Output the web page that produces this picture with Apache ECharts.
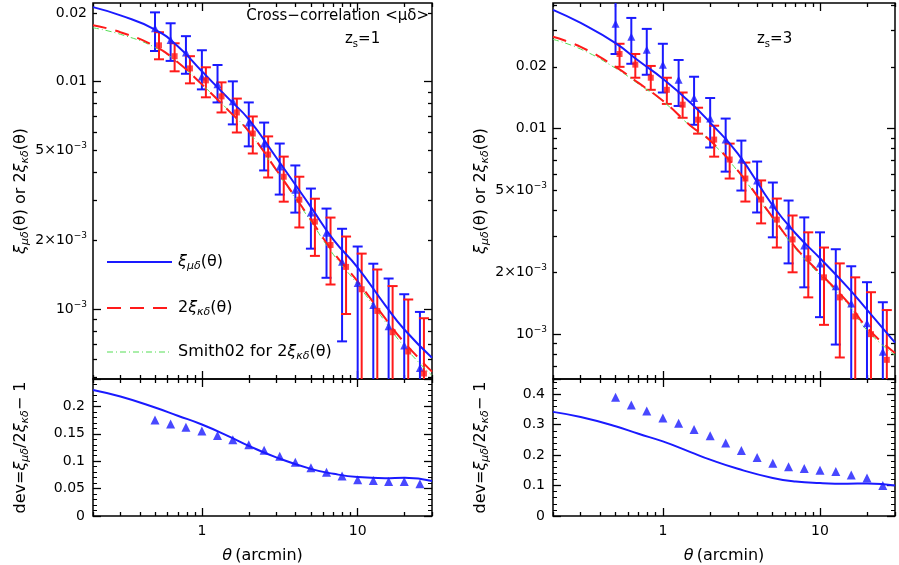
<!DOCTYPE html>
<html><head><meta charset="utf-8">
<script src="https://cdn.jsdelivr.net/npm/echarts@6/dist/echarts.min.js"></script>
<style>html,body{margin:0;background:#fff}#c{width:899px;height:565px}</style>
</head><body><div id="c"></div>
<script>
// ---------- DATA ----------
const theta = [0.5,0.63,0.79,1,1.26,1.58,2,2.51,3.16,3.98,5.01,6.31,7.94,10,12.6,15.8,19.9,25.1];
const curveTheta = [0.2,0.3,0.5,0.7,1,1.5,2,3,5,7,10,15,20,30];
const OFF = 1e-5; // error bar extends below the plot
// z_s = 1 (left)
const L_muPts = [0.0171,0.0152,0.0134,0.0105,0.0097,0.00817,0.00659,0.00533,0.00423,0.00334,0.00265,0.00216,0.00161,0.00130,0.00104,0.00084,0.00069,0.00055];
const L_muHi  = [0.0201,0.0180,0.0158,0.0137,0.0118,0.0100,0.00808,0.00659,0.00533,0.00427,0.00338,0.00276,0.00225,0.00188,0.00158,0.00136,0.00116,0.00097];
const L_muLo  = [0.0136,0.0123,0.0108,0.00922,0.00808,0.00647,0.00518,0.00406,0.00318,0.00265,0.00184,0.00137,0.00072,OFF,OFF,OFF,OFF,OFF];
const L_kPts  = [0.0144,0.0129,0.0114,0.0101,0.00859,0.00730,0.00590,0.00477,0.00381,0.00302,0.00242,0.00191,0.00153,0.00122,0.00098,0.00079,0.00065,0.00052];
const L_kHi   = [0.01644,0.0147,0.0129,0.01153,0.0099,0.0084,0.00701,0.00573,0.00467,0.00381,0.00305,0.00252,0.00208,0.00175,0.00149,0.00126,0.00110,0.00091];
const L_kLo   = [0.0125,0.01107,0.0098,0.00851,0.0073,0.00596,0.00482,0.00378,0.00296,0.00228,0.00171,0.00128,0.00095,OFF,OFF,OFF,OFF,OFF];
const L_muCurve = [0.0212,0.0195,0.0169,0.01426,0.01107,0.00833,0.00681,0.00463,0.00281,0.00201,0.00152,0.00104,0.00081,0.00061];
const L_kCurve  = [0.01766,0.01644,0.01426,0.01213,0.0097,0.00738,0.00603,0.00409,0.00247,0.00177,0.00132,0.00091,0.00071,0.00053];
const L_smith   = [0.0172,0.0161,0.0141,0.0121,0.0097,0.0074,0.0060,0.00405,0.00243,0.00173,0.00128,0.00088,0.00068,0.00051];
const L_devPts  = [0.175,0.168,0.162,0.155,0.147,0.139,0.130,0.120,0.109,0.098,0.088,0.080,0.073,0.066,0.065,0.063,0.063,0.059];
const L_devCurve= [0.230,0.218,0.198,0.183,0.167,0.145,0.128,0.107,0.086,0.077,0.071,0.069,0.070,0.064];
// z_s = 3 (right)
const R_muPts = [0.0324,0.0280,0.0242,0.0205,0.0173,0.0141,0.0112,0.00885,0.00708,0.00560,0.00428,0.00338,0.00270,0.00221,0.00171,0.00141,0.00113,0.00082];
const R_muHi  = [0.045,0.0346,0.0306,0.0259,0.0216,0.0179,0.0141,0.0112,0.00875,0.00692,0.00547,0.00447,0.00370,0.00313,0.00259,0.00214,0.00179,0.00143];
const R_muLo  = [0.0231,0.0207,0.0183,0.0150,0.0129,0.01045,0.0081,0.00618,0.0050,0.00391,0.00296,0.00221,0.00169,0.00121,0.00089,OFF,OFF,OFF];
const R_kPts  = [0.0231,0.0205,0.0177,0.01546,0.01309,0.01106,0.00885,0.00708,0.00572,0.00452,0.00361,0.00289,0.00234,0.00189,0.00151,0.00122,0.0010,0.00075];
const R_kHi   = [0.0259,0.0231,0.0202,0.0177,0.0150,0.01265,0.01034,0.00846,0.00684,0.0056,0.00457,0.00378,0.00313,0.00264,0.00221,0.00189,0.0016,0.00131];
const R_kLo   = [0.0200,0.0177,0.01546,0.0132,0.0113,0.00946,0.00731,0.00572,0.00442,0.00346,0.00264,0.0020,0.00151,0.00111,0.00077,OFF,OFF,OFF];
const R_muCurve = [0.0379,0.0327,0.0261,0.0214,0.0175,0.01337,0.0107,0.00756,0.00423,0.00309,0.00234,0.00169,0.00131,0.00091];
const R_kCurve  = [0.0280,0.0250,0.0200,0.0167,0.01368,0.01034,0.00875,0.00625,0.0037,0.00264,0.00198,0.00143,0.00107,0.00081];
const R_smith   = [0.0272,0.0244,0.0197,0.0165,0.0136,0.0103,0.0087,0.0062,0.00366,0.00260,0.00194,0.00140,0.00104,0.00079];
const R_devPts  = [0.39,0.365,0.345,0.322,0.305,0.284,0.264,0.240,0.215,0.192,0.173,0.162,0.156,0.150,0.146,0.135,0.125,0.10];
const R_devCurve= [0.342,0.325,0.295,0.27,0.245,0.21,0.185,0.155,0.125,0.113,0.108,0.106,0.107,0.100];

const xTickLabels = [1,10];
const xMinorTicks = [0.2,0.3,0.4,0.5,0.6,0.7,0.8,0.9,2,3,4,5,6,7,8,9,20,30];
const yLabelsTop = [0.02,0.01,0.005,0.002,0.001];
const yMajorTop = [0.01,0.001];
const yMinorTop = [0.0005,0.0006,0.0007,0.0008,0.0009,0.002,0.003,0.004,0.005,0.006,0.007,0.008,0.009,0.02,0.03,0.04];

// ---------- BUILD ----------
const lg = Math.log10;
const BLUE = '#1a1aff', RED = '#ff1a1a', GREEN = '#55dd55';
const FONT = 'DejaVu Sans';
const rich = {n:{fontSize:14,fontFamily:FONT,color:'#000'},s:{fontSize:9,fontFamily:FONT,padding:[0,0,9,0],color:'#000'},
  b:{fontSize:16,fontFamily:FONT,fontStyle:'italic',color:'#000'},u:{fontSize:11,fontFamily:FONT,fontStyle:'italic',padding:[9,0,0,0],color:'#000'},
  r:{fontSize:16,fontFamily:FONT,color:'#000'}};
function yFmt(v){
  const x = Math.pow(10,v);
  const e = Math.floor(v+1e-9);
  const m = Math.round(x/Math.pow(10,e));
  if (e === -2) return '{n|0.0'+m+'}';
  return m===1 ? '{n|10}{s|−3}' : '{n|'+m+'×10}{s|−3}';
}
const grids = [
  {left:93,top:3,width:339,height:376},
  {left:93,top:379,width:339,height:141},
  {left:553,top:3,width:342,height:376},
  {left:553,top:379,width:342,height:141}
];
const xAxis=[], yAxis=[], series=[];
const xr=[lg(0.2),lg(30)];
function addX(gi,pos,ticks,len,labels){
  xAxis.push({type:'value',gridIndex:gi,position:pos,min:xr[0],max:xr[1],
    axisLine:{show:false,onZero:false},splitLine:{show:false},
    axisTick:{show:true,inside:true,length:len,lineStyle:{color:'#000',width:1.3},customValues:ticks.map(lg)},
    axisLabel:labels?{show:true,customValues:xTickLabels.map(lg),formatter:v=>String(Math.round(Math.pow(10,v))),fontSize:14,fontFamily:FONT,color:'#000',margin:8}:{show:false},
    name:labels?'{b|θ} {r|(arcmin)}':'',nameLocation:'middle',nameGap:32,nameTextStyle:{rich}});
  return xAxis.length-1;
}
function addYlog(gi,pos,ticks,len,min,max,labels,name){
  yAxis.push({type:'value',gridIndex:gi,position:pos,min:lg(min),max:lg(max),
    axisLine:{show:false,onZero:false},splitLine:{show:false},
    axisTick:{show:true,inside:true,length:len,lineStyle:{color:'#000',width:1.3},customValues:ticks.map(lg)},
    axisLabel:labels?{show:true,customValues:labels.map(lg),formatter:yFmt,rich,margin:6}:{show:false},
    name:name||'',nameLocation:'middle',nameRotate:90,nameGap:62,nameTextStyle:{rich}});
  return yAxis.length-1;
}
function addYlin(gi,pos,max,interval,labels,name){
  yAxis.push({type:'value',gridIndex:gi,position:pos,min:0,max:max,interval:interval,
    axisLine:{show:false,onZero:false},splitLine:{show:false},
    axisTick:{show:true,inside:true,length:8,lineStyle:{color:'#000',width:1.3}},
    minorTick:{show:true,splitNumber:5,length:4,lineStyle:{color:'#000'}},
    axisLabel:labels?{show:true,fontSize:14,fontFamily:FONT,color:'#000',formatter:v=>v>max-1e-9?'':String(+v.toFixed(2)),showMaxLabel:false}:{show:false},
    name:name||'',nameLocation:'middle',nameRotate:90,nameGap:62,nameTextStyle:{rich}});
  return yAxis.length-1;
}
const yName = '{b|ξ}{u|μδ}{r|(θ) or 2}{b|ξ}{u|κδ}{r|(θ)}';
const devName = '{r|dev=}{b|ξ}{u|μδ}{r|/2}{b|ξ}{u|κδ}{r|− 1}';
function errSeries(xi,yi,lo,hi,color,dx){
  return {type:'custom',xAxisIndex:xi,yAxisIndex:yi,clip:true,silent:true,
    data:theta.map((t,i)=>[lg(t),lg(lo[i]),lg(hi[i])]),
    renderItem:(p,api)=>{
      const a=api.coord([api.value(0),api.value(1)]), b=api.coord([api.value(0),api.value(2)]);
      const x=a[0]+dx, st={stroke:color,lineWidth:2};
      return {type:'group',children:[
        {type:'line',shape:{x1:x,y1:a[1],x2:x,y2:b[1]},style:st},
        {type:'line',shape:{x1:x-5,y1:a[1],x2:x+5,y2:a[1]},style:st},
        {type:'line',shape:{x1:x-5,y1:b[1],x2:x+5,y2:b[1]},style:st}]};
    }};
}
function panel(gT,gB,ymin,ymax,muPts,muHi,muLo,kPts,kHi,kLo,muC,kC,sm,devP,devC,devMax,devInt){
  const xT=addX(gT,'bottom',xTickLabels,8,false); addX(gT,'bottom',xMinorTicks,4,false);
  addX(gT,'top',xTickLabels,8,false); addX(gT,'top',xMinorTicks,4,false);
  const yT=addYlog(gT,'left',yMajorTop,8,ymin,ymax,yLabelsTop,yName); addYlog(gT,'left',yMinorTop,4,ymin,ymax);
  addYlog(gT,'right',yMajorTop,8,ymin,ymax); addYlog(gT,'right',yMinorTop,4,ymin,ymax);
  const xB=addX(gB,'bottom',xTickLabels,8,true); addX(gB,'bottom',xMinorTicks,4,false);
  addX(gB,'top',xTickLabels,8,false); addX(gB,'top',xMinorTicks,4,false);
  const yB=addYlin(gB,'left',devMax,devInt,true,devName); addYlin(gB,'right',devMax,devInt,false);
  series.push(
    {type:'line',xAxisIndex:xT,yAxisIndex:yT,data:curveTheta.map((t,i)=>[lg(t),lg(muC[i])]),smooth:true,showSymbol:false,lineStyle:{color:BLUE,width:2},z:3},
    {type:'line',xAxisIndex:xT,yAxisIndex:yT,data:curveTheta.map((t,i)=>[lg(t),lg(kC[i])]),smooth:true,showSymbol:false,lineStyle:{color:RED,width:2,type:[14,9]},z:3},
    {type:'line',xAxisIndex:xT,yAxisIndex:yT,data:curveTheta.map((t,i)=>[lg(t),lg(sm[i])]),smooth:true,showSymbol:false,lineStyle:{color:GREEN,width:1,type:[6,3,1,3]},z:2},
    errSeries(xT,yT,muLo,muHi,BLUE,0),
    errSeries(xT,yT,kLo,kHi,RED,4),
    {type:'scatter',xAxisIndex:xT,yAxisIndex:yT,data:theta.map((t,i)=>[lg(t),lg(muPts[i])]),symbol:'triangle',symbolSize:8,itemStyle:{color:BLUE},z:4},
    {type:'scatter',xAxisIndex:xT,yAxisIndex:yT,data:theta.map((t,i)=>[lg(t),lg(kPts[i])]),symbol:'rect',symbolSize:6,symbolOffset:[4,0],itemStyle:{color:RED},z:4},
    {type:'line',xAxisIndex:xB,yAxisIndex:yB,data:curveTheta.map((t,i)=>[lg(t),devC[i]]),smooth:true,showSymbol:false,lineStyle:{color:BLUE,width:2}},
    {type:'scatter',xAxisIndex:xB,yAxisIndex:yB,data:theta.map((t,i)=>[lg(t),devP[i]]),symbol:'triangle',symbolSize:9,itemStyle:{color:BLUE}}
  );
}
panel(0,1,4.92e-4,0.0221,L_muPts,L_muHi,L_muLo,L_kPts,L_kHi,L_kLo,L_muCurve,L_kCurve,L_smith,L_devPts,L_devCurve,0.25,0.05);
panel(2,3,6.05e-4,0.0409,R_muPts,R_muHi,R_muLo,R_kPts,R_kHi,R_kLo,R_muCurve,R_kCurve,R_smith,R_devPts,R_devCurve,0.45,0.1);

const legendItems = [
  {y:262,text:'{b|ξ}{u|μδ}{r|(θ)}',stroke:BLUE,w:2,dash:null},
  {y:308,text:'{r|2}{b|ξ}{u|κδ}{r|(θ)}',stroke:RED,w:2,dash:[14,9]},
  {y:352,text:'{r|Smith02 for 2}{b|ξ}{u|κδ}{r|(θ)}',stroke:GREEN,w:1,dash:[6,3,1,3]}
];
const graphic = [
  {type:'text',right:470,top:9,style:{text:'Cross−correlation <μδ>',font:'15px "DejaVu Sans"',fill:'#000'}},
  {type:'text',left:345,top:32,style:{text:'{r|z}{z|s}{r|=1}',rich:{r:{fontSize:15,fontFamily:FONT},z:{fontSize:10,fontFamily:FONT,padding:[9,0,0,0]}}}},
  {type:'text',left:757,top:32,style:{text:'{r|z}{z|s}{r|=3}',rich:{r:{fontSize:15,fontFamily:FONT},z:{fontSize:10,fontFamily:FONT,padding:[9,0,0,0]}}}}
];
legendItems.forEach(it=>{
  graphic.push({type:'line',shape:{x1:107,y1:it.y,x2:172,y2:it.y},style:{stroke:it.stroke,lineWidth:it.w,lineDash:it.dash},z:10});
  graphic.push({type:'text',x:178,y:it.y,style:{text:it.text,rich,verticalAlign:'middle'},z:10});
});
const chart = echarts.init(document.getElementById('c'),null,{renderer:'canvas'});
chart.setOption({
  animation:false,
  grid:grids.map(g=>Object.assign({show:true,borderColor:'#000',borderWidth:1.5,backgroundColor:'transparent'},g)),
  xAxis, yAxis, series, graphic
});
</script></body></html>
